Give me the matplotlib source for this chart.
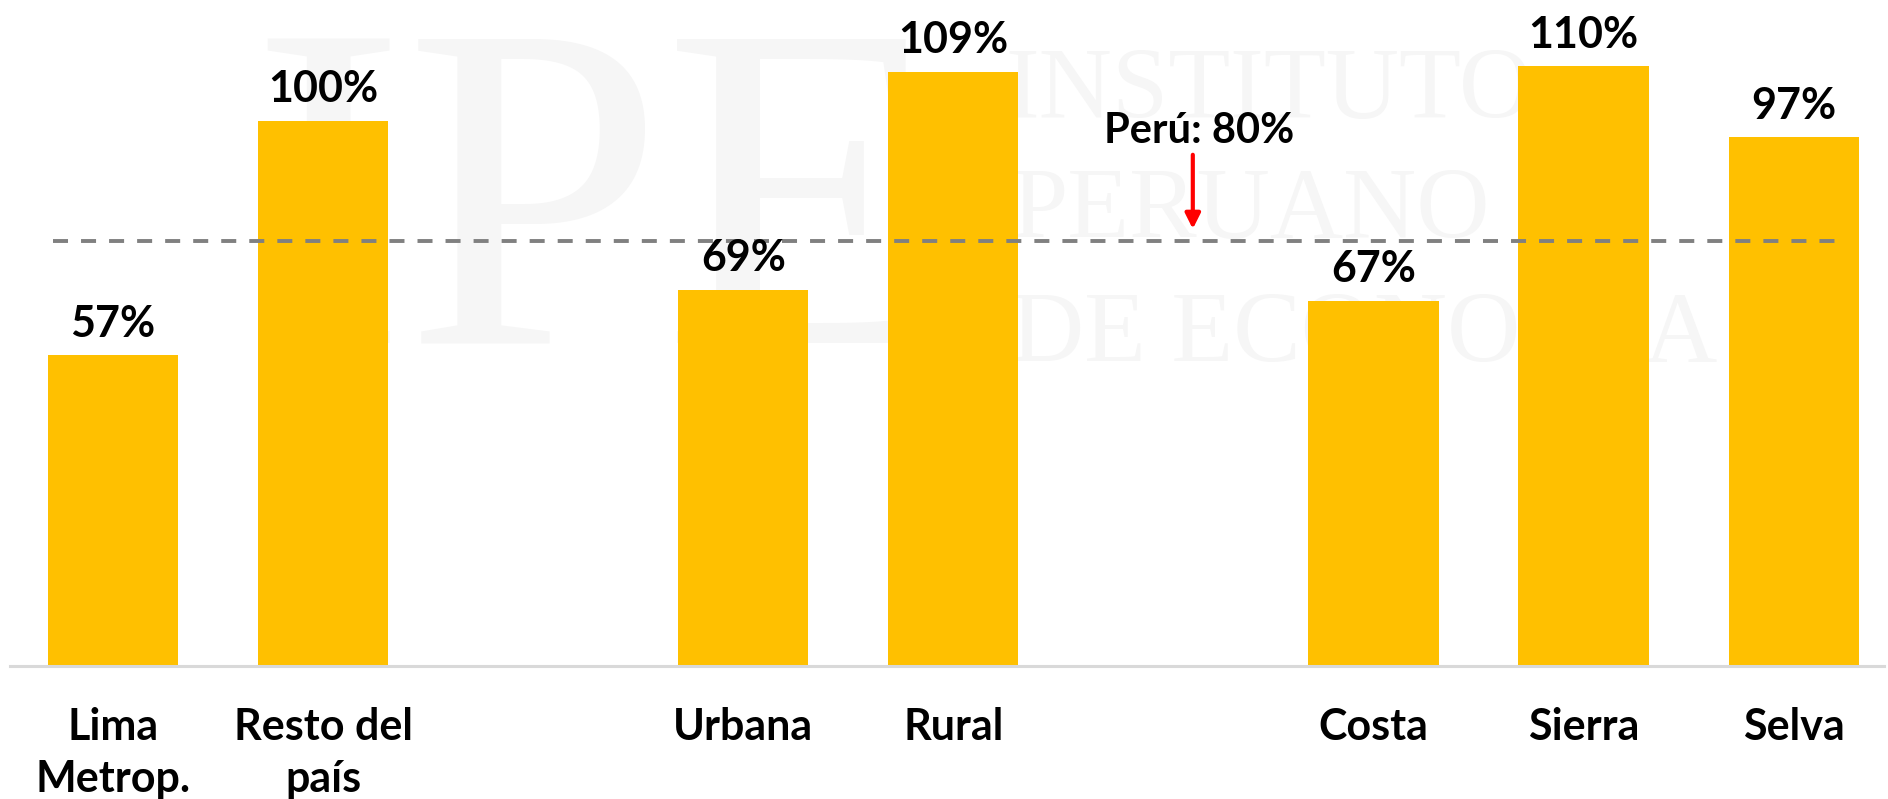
import matplotlib
matplotlib.use("Agg")
import matplotlib.pyplot as plt

# ---- data ----
categories = ["Lima\nMetrop.", "Resto del\npaís", "Urbana", "Rural", "Costa", "Sierra", "Selva"]
slots = [0, 1, 3, 4, 6, 7, 8]
values = [57, 100, 69, 109, 67, 110, 97]
value_labels = ["57%", "100%", "69%", "109%", "67%", "110%", "97%"]
peru_level = 78
peru_label = "Perú: 80%"

FONT = ["Lato", "DejaVu Sans"]
W, H, DPI = 1888, 799, 100
fig = plt.figure(figsize=(W / DPI, H / DPI), dpi=DPI)
ax = fig.add_axes([10 / W, (H - 666) / H, 1874 / W, 666 / H])
ax.patch.set_visible(False)

# watermark (very faint)
wm_col = "#f6f6f6"
wm = dict(transform=fig.transFigure, color=wm_col, family=["Liberation Serif", "DejaVu Serif"],
          va="baseline", ha="left", zorder=0)
ax.text(250 / W, 1 - 343 / H, "IPE", fontsize=335, **wm)
ax.text(1005 / W, 1 - 118 / H, "INSTITUTO", fontsize=73, **wm)
ax.text(1011 / W, 1 - 238 / H, "PERUANO", fontsize=73, **wm)
ax.text(1011 / W, 1 - 362 / H, "DE ECONOMÍA", fontsize=73, **wm)

ax.bar(slots, values, width=0.62, color="#FFC000", zorder=2)

for x, v, lab in zip(slots, values, value_labels):
    ax.annotate(lab, xy=(x, v), xytext=(0, 13.5), textcoords="offset points",
                ha="center", va="baseline", fontsize=31, fontweight="bold",
                family=FONT, color="black", zorder=4)

for x, lab in zip(slots, categories):
    ax.annotate(lab, xy=(x, 0), xytext=(0, -29.5), textcoords="offset points",
                ha="center", va="top", multialignment="center", linespacing=1.36,
                fontsize=31, fontweight="bold", family=FONT, color="black",
                annotation_clip=False)

# Peru average line
ax.plot([-0.286, 8.25], [peru_level, peru_level], color="#808080", lw=2.8,
        ls=(0, (3.86, 3.35)), zorder=3)
ax.annotate("", xy=(5.14, 80.2), xytext=(5.14, 93.8),
            arrowprops=dict(arrowstyle="-|>,head_length=0.9,head_width=0.45",
                            color="#FF0000", lw=3.0, shrinkA=0, shrinkB=0), zorder=4)
ax.text(5.17, 95.9, peru_label, ha="center", va="baseline", fontsize=30,
        fontweight="bold", family=FONT, color="black", zorder=4)

ax.set_xlim(-0.49, 8.43)
ax.set_ylim(0, 122.2)
for s in ["top", "right", "left"]:
    ax.spines[s].set_visible(False)
ax.spines["bottom"].set_color("#d9d9d9")
ax.spines["bottom"].set_linewidth(2.2)
ax.spines["bottom"].set_zorder(5)
ax.set_xticks([])
ax.set_yticks([])

fig.savefig("out.png", dpi=DPI, facecolor="white")
